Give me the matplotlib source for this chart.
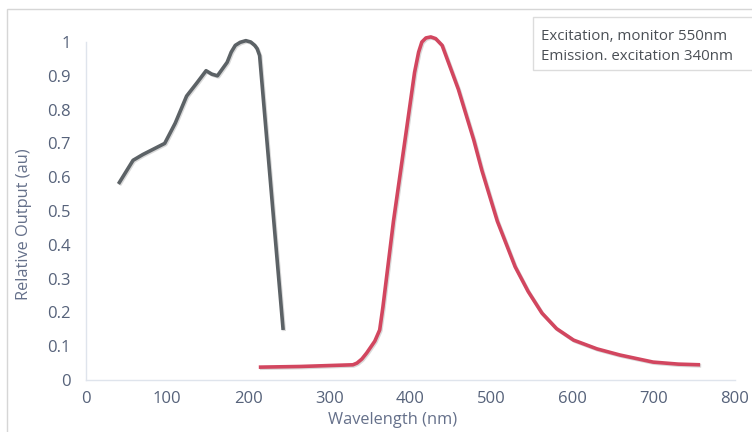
import numpy as np
import matplotlib
matplotlib.use("Agg")
import matplotlib.pyplot as plt
from matplotlib.patches import Rectangle
import matplotlib.patheffects as pe

plt.rcParams['font.family'] = ['Open Sans', 'DejaVu Sans']

# excitation spectrum (monitor 550nm)
exc_wl = [40, 58, 70, 97, 110, 124, 137, 148, 155, 162, 174, 179, 184, 190, 197, 203, 208, 211, 214, 243]
exc_val = [0.58, 0.65, 0.667, 0.70, 0.76, 0.84, 0.88, 0.915, 0.905, 0.90, 0.94, 0.97, 0.99, 0.999, 1.004,
           1.0, 0.99, 0.98, 0.96, 0.148]

# emission spectrum (excitation 340nm)
emi_wl = [213, 264, 329, 334, 340, 346, 356, 362, 366, 379, 395, 405, 410, 414, 419, 425, 431, 435, 439,
          459, 478, 488, 507, 529, 545, 562, 580, 601, 630, 658, 699, 730, 757]
emi_val = [0.038, 0.040, 0.045, 0.05, 0.062, 0.08, 0.115, 0.148, 0.216, 0.47, 0.74, 0.91, 0.97, 1.0,
           1.012, 1.015, 1.01, 1.0, 0.99, 0.86, 0.71, 0.62, 0.47, 0.335, 0.262, 0.198, 0.152, 0.118,
           0.092, 0.074, 0.053, 0.047, 0.045]

labels = ['Excitation, monitor 550nm', 'Emission. excitation 340nm']
xticks = [0, 100, 200, 300, 400, 500, 600, 700, 800]
yticks = [0, 0.1, 0.2, 0.3, 0.4, 0.5, 0.6, 0.7, 0.8, 0.9, 1]

tick_col = '#56627a'
fig = plt.figure(figsize=(7.52, 4.32), dpi=100)
ax = fig.add_axes([86 / 752, 1 - 380 / 432, (735 - 86) / 752, (380 - 42) / 432])

shadow = [pe.SimpleLineShadow(offset=(0.8, -0.8), alpha=0.15, shadow_color='k'), pe.Normal()]
ax.plot(exc_wl, exc_val, color='#5c6266', lw=2.6, clip_on=False,
        solid_joinstyle='round', solid_capstyle='butt', path_effects=shadow)
ax.plot(emi_wl, emi_val, color='#d2465f', lw=2.6, clip_on=False,
        solid_joinstyle='round', solid_capstyle='butt', path_effects=shadow)

ax.set_xlim(0, 800)
ax.set_ylim(0, 1)
ax.set_xticks(xticks)
ax.set_yticks(yticks)
ax.set_yticklabels(['%g' % v for v in yticks])
ax.tick_params(length=0, labelsize=12, colors=tick_col)
ax.tick_params(axis='y', pad=11)
ax.tick_params(axis='x', pad=8)
for s in ['top', 'right']:
    ax.spines[s].set_visible(False)
for s in ['left', 'bottom']:
    ax.spines[s].set_color('#dfe4ec')
    ax.spines[s].set_linewidth(1)

ax.set_xlabel('Wavelength (nm)', fontsize=11.8, color='#65708a')
ax.set_ylabel('Relative Output (au)', fontsize=11.8, color='#65708a')
ax.xaxis.set_label_coords(0.473, -0.095)
ax.yaxis.set_label_coords(-0.083, 0.46)

# outer frame of the figure
fig.patches.append(Rectangle((7 / 752, -0.1), 1.1, 1.1 - 9 / 432, transform=fig.transFigure,
                             fill=False, edgecolor='#d6d6d6', lw=1))
# legend box
fig.patches.append(Rectangle((533 / 752, 1 - 70 / 432), 0.4, 53 / 432, transform=fig.transFigure,
                             facecolor='white', edgecolor='#dcdcdc', lw=1))
fig.text(541 / 752, 1 - 37 / 432, labels[0], fontsize=10.8, color='#4a4f55', va='center')
fig.text(541 / 752, 1 - 56 / 432, labels[1], fontsize=10.8, color='#4a4f55', va='center')

fig.savefig('out.png', dpi=100)
